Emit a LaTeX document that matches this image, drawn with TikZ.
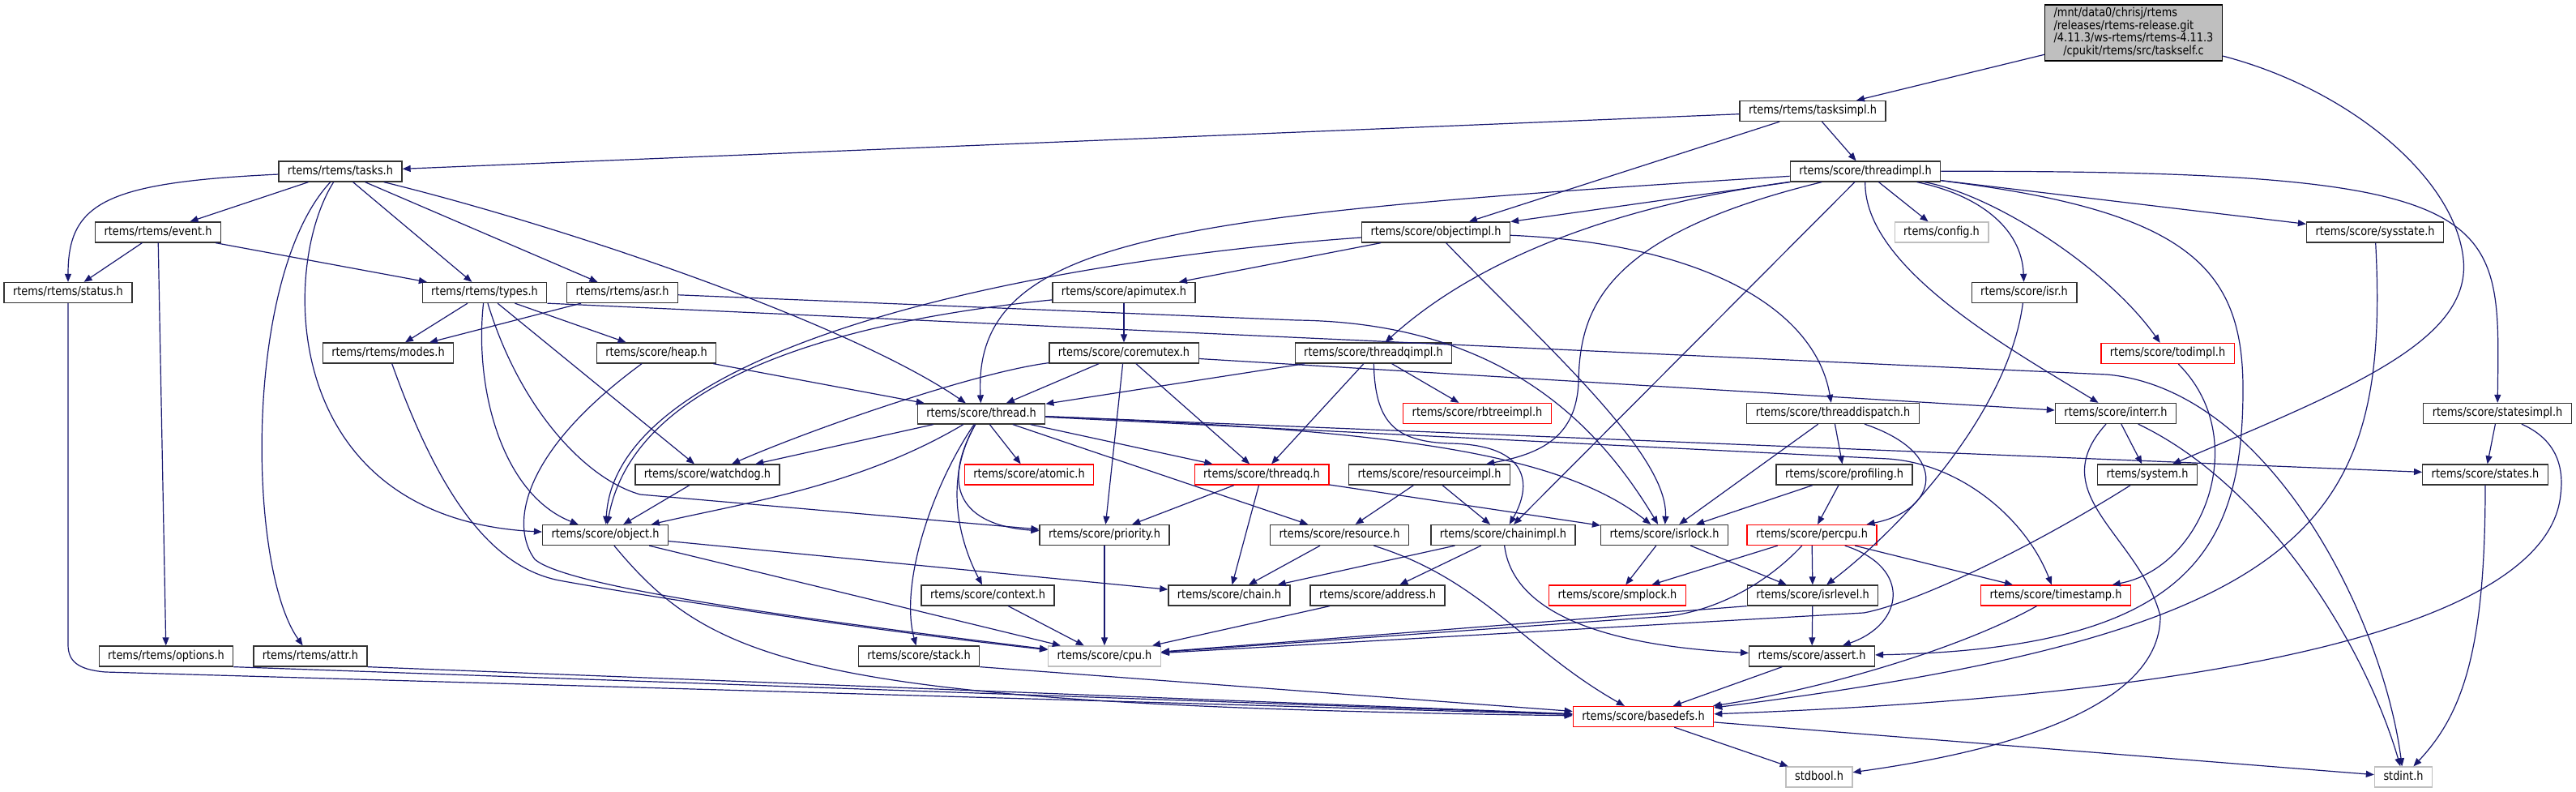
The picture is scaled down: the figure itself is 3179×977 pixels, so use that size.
\documentclass[tikz,border=0pt]{standalone}
\usepackage{fontspec}
\setmainfont{DejaVu Sans}[FakeStretch=0.86]
\usepackage{tikz}
\usetikzlibrary{arrows.meta}
\definecolor{edgeblue}{HTML}{191970}
\definecolor{boxgrey}{HTML}{BFBFBF}

\begin{document}
\begin{tikzpicture}[
x=0.5pt,y=-0.5pt,
file/.style={rectangle,draw=black!80,fill=white,line width=0.65pt,minimum height=12.5pt,inner xsep=5.5pt,inner ysep=0pt,text height=5.6pt,text depth=1.6pt,font=\fontsize{7.5}{7.4}\selectfont},
redfile/.style={file,draw=red},
sysfile/.style={file,draw=boxgrey},
mainfile/.style={rectangle,draw=black,fill=boxgrey,line width=0.65pt,minimum height=34.5pt,inner xsep=5.5pt,inner ysep=0pt,font=\fontsize{7.5}{7.4}\selectfont},
inc/.style={draw=edgeblue,line width=0.6pt,-{Triangle[length=5pt,width=4pt]}}
]
\useasboundingbox (0,0) rectangle (3179,977);
\fill[white] (0,0) rectangle (3179,977);

\node[mainfile] (taskself) at (2633,40.5) {\begin{tabular}{@{}l@{}}/mnt/data0/chrisj/rtems\\/releases/rtems-release.git\\/4.11.3/ws-rtems/rtems-4.11.3\\\multicolumn{1}{@{}c@{}}{/cpukit/rtems/src/taskself.c}\end{tabular}};
\node[file] (tasksimpl) at (2237,137) {rtems/rtems/tasksimpl.h};
\node[file] (tasks) at (420,211.5) {rtems/rtems/tasks.h};
\node[file] (threadimpl) at (2302,211.5) {rtems/score/threadimpl.h};
\node[file] (event) at (195,286.5) {rtems/rtems/event.h};
\node[file] (objectimpl) at (1772,286.5) {rtems/score/objectimpl.h};
\node[sysfile] (config) at (2396,286.5) {rtems/config.h};
\node[file] (sysstate) at (2931,286.5) {rtems/score/sysstate.h};
\node[file] (status) at (84,361) {rtems/rtems/status.h};
\node[file] (types) at (598,361) {rtems/rtems/types.h};
\node[file] (asr) at (768,361) {rtems/rtems/asr.h};
\node[file] (apimutex) at (1387,361) {rtems/score/apimutex.h};
\node[file] (isr) at (2498,361) {rtems/score/isr.h};
\node[file] (modes) at (479,435.5) {rtems/rtems/modes.h};
\node[file] (heap) at (810,435.5) {rtems/score/heap.h};
\node[file] (coremutex) at (1387,435.5) {rtems/score/coremutex.h};
\node[file] (threadqimpl) at (1695,435.5) {rtems/score/threadqimpl.h};
\node[redfile] (todimpl) at (2675,436) {rtems/score/todimpl.h};
\node[file] (thread) at (1211,510.5) {rtems/score/thread.h};
\node[redfile] (rbtreeimpl) at (1823,510) {rtems/score/rbtreeimpl.h};
\node[file] (threaddispatch) at (2262,510) {rtems/score/threaddispatch.h};
\node[file] (interr) at (2611,510) {rtems/score/interr.h};
\node[file] (statesimpl) at (3082,510) {rtems/score/statesimpl.h};
\node[file] (watchdog) at (873,585.5) {rtems/score/watchdog.h};
\node[redfile] (atomic) at (1270,585.5) {rtems/score/atomic.h};
\node[redfile] (threadq) at (1557,585.5) {rtems/score/threadq.h};
\node[file] (resourceimpl) at (1764,585.5) {rtems/score/resourceimpl.h};
\node[file] (profiling) at (2276,585.5) {rtems/score/profiling.h};
\node[file] (system) at (2650,585.5) {rtems/system.h};
\node[file] (states) at (3067,585.5) {rtems/score/states.h};
\node[file] (object) at (747,660) {rtems/score/object.h};
\node[file] (priority) at (1363,660) {rtems/score/priority.h};
\node[file] (resource) at (1653,660) {rtems/score/resource.h};
\node[file] (chainimpl) at (1855,660) {rtems/score/chainimpl.h};
\node[file] (isrlock) at (2054,660) {rtems/score/isrlock.h};
\node[redfile] (percpu) at (2236,660) {rtems/score/percpu.h};
\node[file] (context) at (1219,734.5) {rtems/score/context.h};
\node[file] (chain) at (1517,734.5) {rtems/score/chain.h};
\node[file] (address) at (1700,734.5) {rtems/score/address.h};
\node[redfile] (smplock) at (1996,734.5) {rtems/score/smplock.h};
\node[file] (isrlevel) at (2237,734.5) {rtems/score/isrlevel.h};
\node[redfile] (timestamp) at (2537,734.5) {rtems/score/timestamp.h};
\node[file] (options) at (205,809.5) {rtems/rtems/options.h};
\node[file] (attr) at (383,809.5) {rtems/rtems/attr.h};
\node[file] (stack) at (1134,809.5) {rtems/score/stack.h};
\node[sysfile] (cpu) at (1363,809.5) {rtems/score/cpu.h};
\node[file] (assert) at (2236,809.5) {rtems/score/assert.h};
\node[redfile] (basedefs) at (2028,884) {rtems/score/basedefs.h};
\node[sysfile] (stdbool) at (2245,958.5) {stdbool.h};
\node[sysfile] (stdint) at (2966,958.5) {stdint.h};

\foreach \a/\b in {taskself/tasksimpl,tasksimpl/tasks,tasksimpl/objectimpl,tasksimpl/threadimpl,
    tasks/event,tasks/types,tasks/asr,event/status,event/types,event/options,
    types/modes,types/heap,types/watchdog,asr/modes,heap/thread,
    threadimpl/objectimpl,threadimpl/config,threadimpl/chainimpl,threadimpl/sysstate,
    objectimpl/apimutex,apimutex/coremutex,coremutex/thread,coremutex/priority,coremutex/threadq,
    threadqimpl/thread,threadqimpl/threadq,threadqimpl/rbtreeimpl,
    thread/watchdog,thread/atomic,thread/resource,thread/threadq,thread/states,
    watchdog/object,object/cpu,object/chain,threadq/priority,threadq/chain,threadq/isrlock,
    resourceimpl/resource,resourceimpl/chainimpl,resource/chain,chainimpl/chain,chainimpl/address,
    isrlock/smplock,isrlock/isrlevel,threaddispatch/isrlock,threaddispatch/profiling,
    profiling/isrlock,profiling/percpu,percpu/smplock,percpu/isrlevel,percpu/timestamp,
    isrlevel/assert,assert/basedefs,address/cpu,context/cpu,priority/cpu,
    interr/system,statesimpl/states,basedefs/stdbool,basedefs/stdint}
{
    \draw[inc] (\a) -- (\b);
}

\draw[inc] (tasks) .. controls (130,225) and (84,250) .. (status);
\draw[inc] (tasks) .. controls (345,330) and (345,640) .. (object);
\draw[inc] (tasks) .. controls (300,340) and (305,700) .. (attr);
\draw[inc] (tasks) .. controls (700,280) and (1050,400) .. (thread);
\draw[inc] (status) -- (84,795) .. controls (84,815) and (95,826) .. (130,829) -- (basedefs);
\draw[inc] (options.south east) -- (basedefs);
\draw[inc] (attr.south east) -- (basedefs);
\draw[inc] (types) .. controls (585,480) and (620,610) .. (object);
\draw[inc] (types) .. controls (640,500) and (720,590) .. (790,610) -- (priority);
\draw[inc] (types.south east) -- (2600,462) .. controls (2800,480) and (2940,760) .. (stdint);
\draw[inc] (asr) -- (1600,395) .. controls (1850,398) and (1970,520) .. (isrlock);
\draw[inc] (heap) .. controls (640,560) and (630,650) .. (660,690) .. controls (700,725) and (1000,765) .. (cpu);
\draw[inc] (modes) .. controls (545,620) and (610,700) .. (690,716) .. controls (850,745) and (1100,780) .. (cpu);
\draw[inc] (object) .. controls (880,820) and (1000,870) .. (basedefs);
\draw[inc] (taskself) .. controls (2900,110) and (3030,220) .. (3040,320) .. controls (3050,420) and (2900,480) .. (system);
\draw[inc] (threadimpl) .. controls (1450,265) and (1200,290) .. (thread);
\draw[inc] (threadimpl) .. controls (1950,260) and (1800,340) .. (threadqimpl);
\draw[inc] (threadimpl) .. controls (1980,290) and (1950,380) .. (1948,470) .. controls (1946,540) and (1900,560) .. (resourceimpl);
\draw[inc] (threadimpl) .. controls (2300,330) and (2480,430) .. (interr);
\draw[inc] (threadimpl) .. controls (2440,240) and (2495,280) .. (isr);
\draw[inc] (threadimpl) .. controls (2460,240) and (2600,330) .. (todimpl);
\draw[inc] (threadimpl) .. controls (2700,260) and (2768,330) .. (2768,480) .. controls (2768,680) and (2700,800) .. (assert);
\draw[inc] (threadimpl) .. controls (3100,210) and (3085,260) .. (statesimpl);
\draw[inc] (objectimpl) .. controls (1300,320) and (760,420) .. (object);
\draw[inc] (apimutex) .. controls (1000,400) and (780,480) .. (object);
\draw[inc] (objectimpl) .. controls (1900,420) and (2060,560) .. (isrlock);
\draw[inc] (objectimpl) .. controls (2100,300) and (2240,380) .. (threaddispatch);
\draw[inc] (coremutex) .. controls (1200,460) and (1000,530) .. (watchdog);
\draw[inc] ([yshift=-3.5pt]coremutex.east) -- ([yshift=2pt]interr.west);
\draw[inc] (threadqimpl) .. controls (1697,520) and (1720,545) .. (1790,547) .. controls (1890,549) and (1890,600) .. (chainimpl);
\draw[inc] (thread) .. controls (1060,600) and (920,620) .. (object);
\draw[inc] (thread) .. controls (1150,600) and (1110,720) .. (stack);
\draw[inc] (thread) .. controls (1160,600) and (1190,680) .. (context);
\draw[inc] (thread) .. controls (1150,620) and (1210,650) .. (priority);
\draw[inc] (thread) .. controls (1700,530) and (1920,555) .. (isrlock);
\draw[inc] (thread) -- (2330,566) .. controls (2420,572) and (2500,640) .. (timestamp);
\draw[inc] (resource) .. controls (1830,715) and (1880,800) .. (basedefs);
\draw[inc] (chainimpl) .. controls (1870,780) and (2050,800) .. (assert);
\draw[inc] (threaddispatch) .. controls (2410,560) and (2390,630) .. (percpu);
\draw[inc] (percpu) .. controls (2180,720) and (2120,752) .. (2060,760) -- (cpu);
\draw[inc] (percpu) .. controls (2360,700) and (2350,770) .. (assert);
\draw[inc] (isr) .. controls (2480,500) and (2360,640) .. (isrlevel);
\draw[inc] (isrlevel.south west) -- (cpu);
\draw[inc] (stack.south east) -- (basedefs);
\draw[inc] (system) .. controls (2500,680) and (2360,745) .. (2300,756) -- (cpu);
\draw[inc] (interr) .. controls (2520,610) and (2640,660) .. (2666,760) .. controls (2666,880) and (2450,930) .. (stdbool);
\draw[inc] (interr) .. controls (2800,600) and (2920,800) .. (stdint);
\draw[inc] (todimpl) .. controls (2780,540) and (2720,700) .. (timestamp);
\draw[inc] (timestamp) .. controls (2420,800) and (2250,850) .. (basedefs);
\draw[inc] (sysstate) .. controls (2950,650) and (2850,780) .. (basedefs);
\draw[inc] (statesimpl) .. controls (3150,540) and (3165,570) .. (3160,610) .. controls (3150,720) and (2950,850) .. (basedefs);
\draw[inc] (states) .. controls (3067,800) and (3040,880) .. (stdint);
\end{tikzpicture}
\end{document}
